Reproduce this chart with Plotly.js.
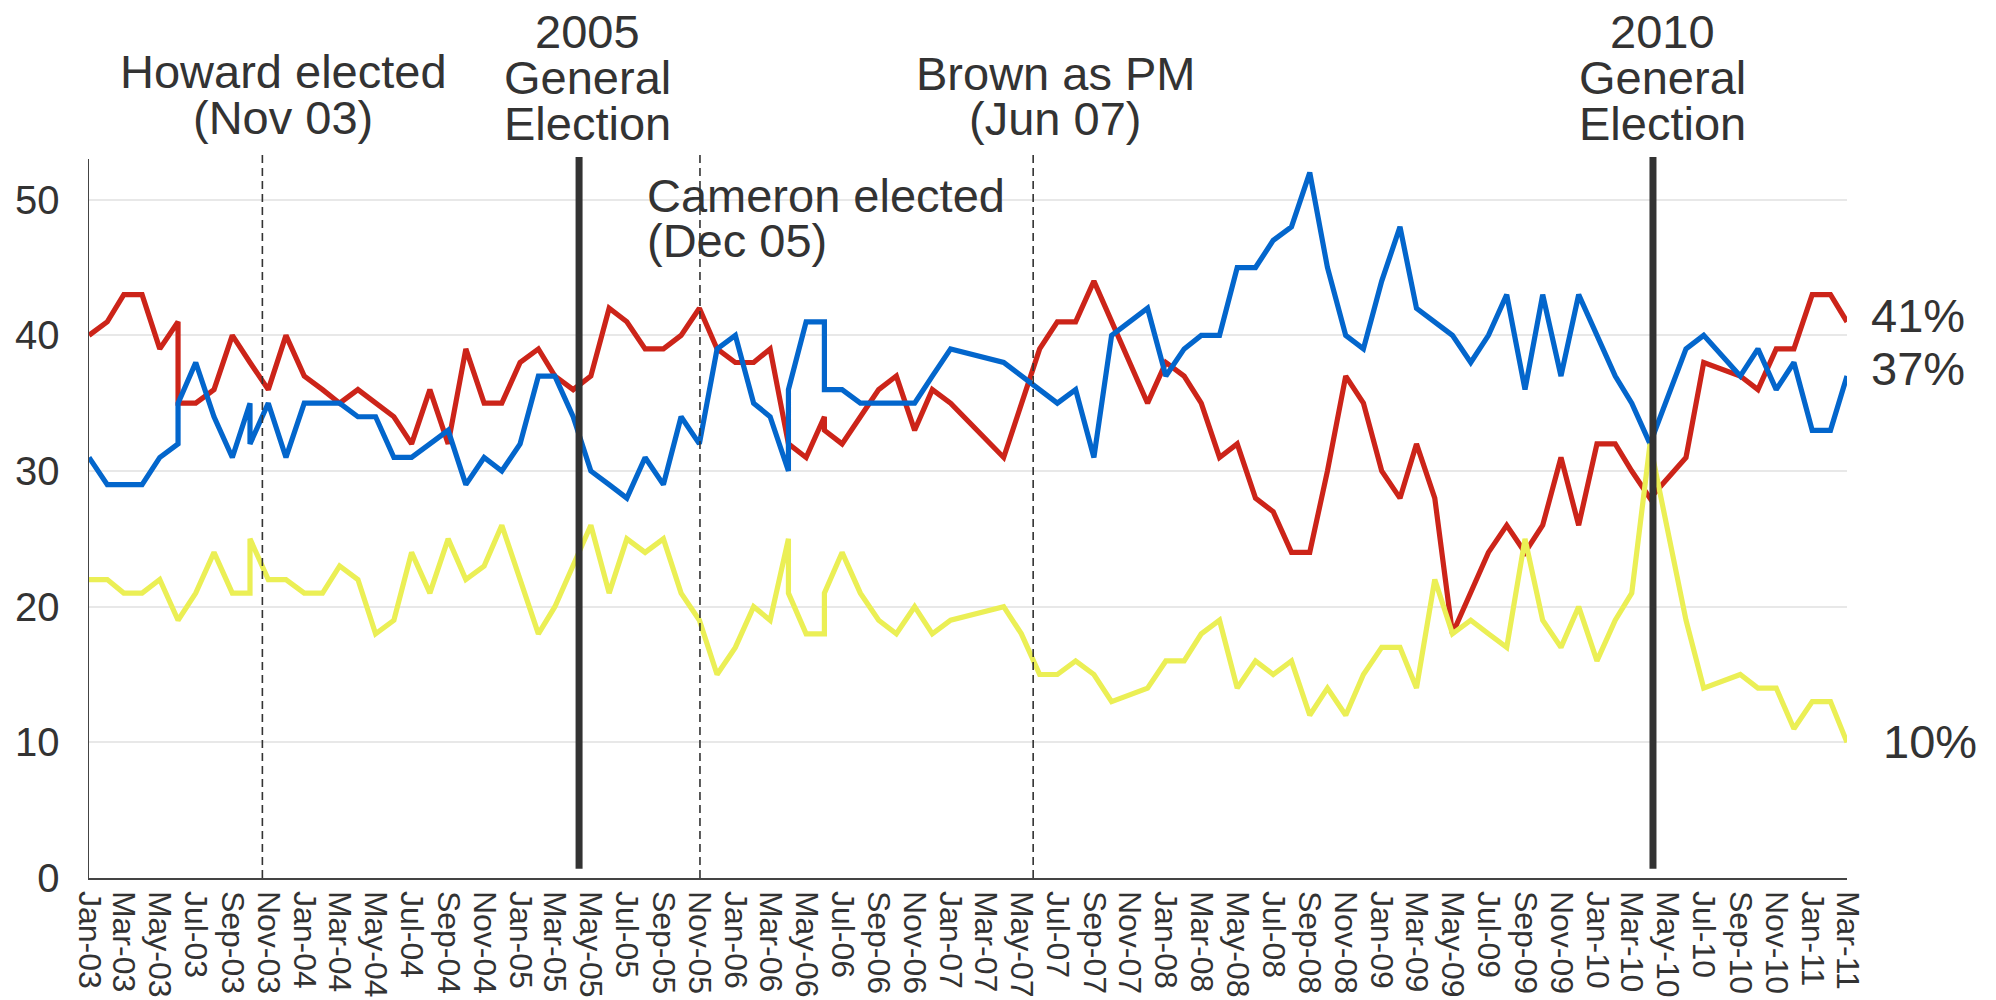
<!DOCTYPE html>
<html>
<head>
<meta charset="utf-8">
<script src="https://cdn.plot.ly/plotly-3.0.1.min.js"></script>
<style>
  html, body { margin: 0; padding: 0; background: #ffffff; }
  #chart { width: 1996px; height: 1000px; }
</style>
</head>
<body>
<div id="chart"></div>
<script>
// Poll dates (month of poll; a repeated month means two polls in that month)
const pollDates = [
  "2003-01-01","2003-02-01","2003-03-01","2003-04-01","2003-05-01","2003-06-01","2003-06-01",
  "2003-07-01","2003-08-01","2003-09-01","2003-10-01","2003-10-01","2003-11-01","2003-12-01",
  "2004-01-01","2004-02-01","2004-03-01","2004-04-01","2004-05-01","2004-06-01","2004-07-01",
  "2004-08-01","2004-09-01","2004-10-01","2004-11-01","2004-12-01","2005-01-01","2005-02-01",
  "2005-03-01","2005-04-01","2005-05-01","2005-06-01","2005-07-01","2005-08-01","2005-09-01",
  "2005-10-01","2005-11-01","2005-12-01","2006-01-01","2006-02-01","2006-03-01","2006-04-01",
  "2006-04-01","2006-05-01","2006-06-01","2006-06-01","2006-07-01","2006-08-01","2006-09-01",
  "2006-10-01","2006-11-01","2006-12-01","2007-01-01","2007-04-01","2007-05-01","2007-06-01",
  "2007-07-01","2007-08-01","2007-09-01","2007-10-01","2007-12-01","2008-01-01","2008-02-01",
  "2008-03-01","2008-04-01","2008-05-01","2008-06-01","2008-07-01","2008-08-01","2008-09-01",
  "2008-10-01","2008-11-01","2008-12-01","2009-01-01","2009-02-01","2009-03-01","2009-04-01",
  "2009-05-01","2009-06-01","2009-07-01","2009-08-01","2009-09-01","2009-10-01","2009-11-01",
  "2009-12-01","2010-01-01","2010-02-01","2010-03-01","2010-04-01","2010-06-01","2010-07-01",
  "2010-09-01","2010-10-01","2010-11-01","2010-12-01","2011-01-01","2011-02-01","2011-03-01"
];

const labour = [
  40,41,43,43,39,41,35, 35,36,40,38,38,36,40, 37,36,35,36,35,34,32,
  36,32,39,35,35,38,39, 37,36,37,42,41,39,39, 40,42,39,38,38,39,32,
  32,31,34,33,32,34,36, 37,33,36,35,31,35,39, 41,41,44,41,35,38,37,
  35,31,32,28,27,24,24, 30,37,35,30,28,32,28, 18,21,24,26,24,26,31,
  26,32,32,30,28,31,38, 37,36,39,39,43,43,41
];

const conservative = [
  31,29,29,29,31,32,35, 38,34,31,35,32,35,31, 35,35,35,34,34,31,31,
  32,33,29,31,30,32,37, 37,34,30,29,28,31,29, 34,32,39,40,35,34,30,
  36,41,41,36,36,35,35, 35,35,37,39,38,37,36, 35,36,31,40,42,37,39,
  40,40,45,45,47,48,52, 45,40,39,44,48,42,41, 40,38,40,43,36,43,37,
  43,40,37,35,32,39,40, 37,39,36,38,33,33,37
];

const libDem = [
  22,22,21,21,22,19,19, 21,24,21,21,25,22,22, 21,21,23,22,18,19,24,
  21,25,22,23,26,22,18, 20,23,26,21,25,24,25, 21,19,15,17,20,19,25,
  21,18,18,21,24,21,19, 18,20,18,19,20,18,15, 15,16,15,13,14,16,16,
  18,19,14,16,15,16,12, 14,12,15,17,17,14,22, 18,19,18,17,25,19,17,
  20,16,19,21,32,19,14, 15,14,14,11,13,13,10
];

const endLabels = ["41%", "37%", "10%"];

const eventDates = ["2003-10-22", "2005-04-11", "2005-11-02", "2007-05-21", "2010-04-06"];
const eventKinds = ["leader", "election", "leader", "leader", "election"];

const FONT = '"Liberation Sans", Arial, Helvetica, sans-serif';
const TXT = '#333333';

function series(y, color) {
  return {
    type: 'scatter', mode: 'lines', x: pollDates, y: y,
    line: { color: color, width: 5.2, shape: 'linear' },
    hoverinfo: 'x+y', showlegend: false
  };
}

const data = [
  series(labour, '#cc2419'),
  series(conservative, '#0366cc'),
  series(libDem, '#ebef55')
];

// plot-area pixel geometry helpers (for placing annotation text)
const L = 89.3, W = 1757.4, B = 878.3, H = 719.2;
const px = v => (v - L) / W;
const py = v => (B - v) / H;

const shapes = eventDates.map((d, i) => eventKinds[i] === 'election' ? {
  type: 'line', xref: 'x', yref: 'paper', x0: d, x1: d, y0: py(869), y1: py(157),
  line: { color: '#333333', width: 7 }, layer: 'above'
} : {
  type: 'line', xref: 'x', yref: 'paper', x0: d, x1: d, y0: 0, y1: py(155),
  line: { color: '#333333', width: 1.6, dash: '8px,5px' }, layer: 'above'
});

function note(text, xpix, midpix, anchor) {
  return {
    text: text, xref: 'paper', yref: 'paper', x: px(xpix), y: py(midpix),
    xanchor: anchor || 'center', yanchor: 'middle', showarrow: false,
    font: { family: FONT, size: 47, color: TXT }
  };
}

const annotations = [
  note('Howard elected', 284, 72),
  note('(Nov 03)', 283.5, 118),
  note('2005', 588, 32),
  note('General', 588, 78),
  note('Election', 588, 124),
  note('Cameron elected', 645, 196, 'left'),
  note('(Dec 05)', 645, 241, 'left'),
  note('Brown as PM', 1055, 74),
  note('(Jun 07)', 1055, 119),
  note('2010', 1662.5, 32),
  note('General', 1662.5, 78),
  note('Election', 1662.5, 124),
  note(endLabels[0], 1869, 316, 'left'),
  note(endLabels[1], 1869, 369, 'left'),
  note(endLabels[2], 1881, 742, 'left')
];

const layout = {
  width: 1996, height: 1000,
  margin: { l: 89, r: 149, t: 159, b: 122 },
  paper_bgcolor: '#ffffff', plot_bgcolor: '#ffffff',
  font: { family: FONT, color: TXT },
  xaxis: {
    type: 'date',
    range: ['2003-01-01', '2011-03-01'],
    tick0: '2003-01-01', dtick: 'M2', tickformat: '%b-%y',
    tickangle: 90, ticks: '', ticklabelstandoff: 5,
    tickfont: { family: FONT, size: 32, color: TXT },
    showgrid: false, zeroline: false,
    showline: true, linecolor: '#444444', linewidth: 1.5
  },
  yaxis: {
    range: [0, 53], tickvals: [0, 10, 20, 30, 40, 50],
    ticks: '', ticklabelstandoff: 20,
    tickfont: { family: FONT, size: 40, color: TXT },
    showgrid: true, gridcolor: '#e8e8e8', gridwidth: 2,
    zeroline: false, showline: true, linecolor: '#444444', linewidth: 1.5
  },
  shapes: shapes,
  annotations: annotations,
  showlegend: false
};

Plotly.newPlot('chart', data, layout, { displayModeBar: false, staticPlot: true });
</script>
</body>
</html>
